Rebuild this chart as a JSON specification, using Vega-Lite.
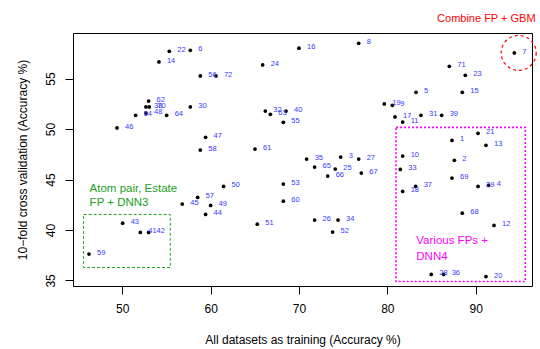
{
  "$schema": "https://vega.github.io/schema/vega-lite/v6.json",
  "width": 459,
  "height": 253,
  "autosize": {"type": "none"},
  "padding": {"left": 73, "top": 33, "right": 8, "bottom": 63},
  "background": "white",
  "config": {
    "view": {"stroke": "black", "strokeWidth": 1},
    "font": "Liberation Sans",
    "axis": {"domain": false, "grid": false, "tickColor": "black", "tickSize": 8, "labelColor": "black", "labelFontSize": 12, "titleFontSize": 12, "titleFontWeight": "normal", "titleColor": "black", "labelFont": "Liberation Sans", "titleFont": "Liberation Sans"}
  },
  "datasets": {
    "pts": [
      {"id": "1", "x": 87.32, "y": 48.88}, {"id": "2", "x": 87.59, "y": 46.90}, {"id": "3", "x": 74.72, "y": 47.23},
      {"id": "4", "x": 91.47, "y": 44.42}, {"id": "5", "x": 83.25, "y": 53.64}, {"id": "6", "x": 57.70, "y": 57.81},
      {"id": "7", "x": 94.38, "y": 57.55}, {"id": "8", "x": 76.76, "y": 58.50}, {"id": "9", "x": 80.57, "y": 52.35},
      {"id": "10", "x": 81.74, "y": 47.33}, {"id": "11", "x": 81.74, "y": 50.70}, {"id": "12", "x": 92.08, "y": 40.45},
      {"id": "13", "x": 91.17, "y": 48.39}, {"id": "14", "x": 54.15, "y": 56.65}, {"id": "15", "x": 88.49, "y": 53.64},
      {"id": "16", "x": 70.00, "y": 58.01}, {"id": "17", "x": 80.87, "y": 51.20}, {"id": "18", "x": 81.74, "y": 43.82},
      {"id": "19", "x": 79.66, "y": 52.49}, {"id": "20", "x": 91.17, "y": 35.39}, {"id": "21", "x": 90.27, "y": 49.58},
      {"id": "22", "x": 55.32, "y": 57.71}, {"id": "23", "x": 88.83, "y": 55.33}, {"id": "24", "x": 65.89, "y": 56.36},
      {"id": "25", "x": 74.11, "y": 46.04}, {"id": "26", "x": 71.77, "y": 40.98}, {"id": "27", "x": 76.76, "y": 47.03},
      {"id": "28", "x": 84.98, "y": 35.59}, {"id": "29", "x": 90.27, "y": 44.32}, {"id": "30", "x": 57.70, "y": 52.19},
      {"id": "31", "x": 83.81, "y": 51.36}, {"id": "32", "x": 66.19, "y": 51.79}, {"id": "33", "x": 81.47, "y": 46.00},
      {"id": "34", "x": 74.42, "y": 40.98}, {"id": "35", "x": 70.87, "y": 47.03}, {"id": "36", "x": 86.38, "y": 35.59},
      {"id": "37", "x": 83.21, "y": 44.32}, {"id": "38", "x": 52.68, "y": 52.19}, {"id": "39", "x": 86.15, "y": 51.36},
      {"id": "40", "x": 68.53, "y": 51.79}, {"id": "41", "x": 52.04, "y": 39.76}, {"id": "42", "x": 52.98, "y": 39.76},
      {"id": "43", "x": 50.04, "y": 40.68}, {"id": "44", "x": 59.43, "y": 41.54}, {"id": "45", "x": 56.79, "y": 42.57},
      {"id": "46", "x": 49.40, "y": 50.11}, {"id": "47", "x": 59.43, "y": 49.18}, {"id": "48", "x": 52.68, "y": 51.59},
      {"id": "49", "x": 60.00, "y": 42.43}, {"id": "50", "x": 61.47, "y": 44.32}, {"id": "51", "x": 65.28, "y": 40.58},
      {"id": "52", "x": 73.81, "y": 39.79}, {"id": "53", "x": 68.23, "y": 44.55}, {"id": "54", "x": 51.51, "y": 51.36},
      {"id": "55", "x": 68.23, "y": 50.67}, {"id": "56", "x": 58.83, "y": 55.26}, {"id": "57", "x": 58.53, "y": 43.23},
      {"id": "58", "x": 58.83, "y": 47.92}, {"id": "59", "x": 46.23, "y": 37.61}, {"id": "60", "x": 68.23, "y": 42.86},
      {"id": "61", "x": 65.02, "y": 48.02}, {"id": "62", "x": 52.98, "y": 52.78}, {"id": "63", "x": 66.76, "y": 51.46},
      {"id": "64", "x": 55.02, "y": 51.36}, {"id": "65", "x": 71.77, "y": 46.24}, {"id": "66", "x": 73.25, "y": 45.34},
      {"id": "67", "x": 77.06, "y": 45.64}, {"id": "68", "x": 88.49, "y": 41.67}, {"id": "69", "x": 87.32, "y": 45.15},
      {"id": "70", "x": 53.06, "y": 52.19}, {"id": "71", "x": 87.02, "y": 56.22}, {"id": "72", "x": 60.60, "y": 55.26}
    ]
  },
  "layer": [
    {
      "data": {"values": [{"x1": 45.62, "x2": 55.43, "y1": 36.28, "y2": 41.54}]},
      "mark": {"type": "rect", "fill": null, "stroke": "#22a022", "strokeWidth": 1, "strokeDash": [3, 2]},
      "encoding": {
        "x": {"field": "x1", "type": "quantitative", "scale": {"domain": [44.42, 96.38], "nice": false, "zero": false},
              "axis": {"values": [50, 60, 70, 80, 90], "labelPadding": 9, "title": "All datasets as training (Accuracy %)", "titlePadding": 20}},
        "x2": {"field": "x2"},
        "y": {"field": "y1", "type": "quantitative", "scale": {"domain": [34.45, 59.52], "nice": false, "zero": false},
              "axis": {"values": [35, 40, 45, 50, 55], "labelAngle": 270, "labelAlign": "center", "labelBaseline": "bottom", "labelPadding": 8, "title": "10\u2212fold cross validation (Accuracy %)", "titlePadding": 15}},
        "y2": {"field": "y2"}
      }
    },
    {
      "data": {"values": [{"x1": 80.99, "x2": 95.62, "y1": 34.89, "y2": 50.17}]},
      "mark": {"type": "rect", "fill": null, "stroke": "#ff00ff", "strokeWidth": 1.6, "strokeDash": [2, 2]},
      "encoding": {
        "x": {"field": "x1", "type": "quantitative", "scale": {"domain": [44.42, 96.38], "nice": false, "zero": false}},
        "x2": {"field": "x2"},
        "y": {"field": "y1", "type": "quantitative", "scale": {"domain": [34.45, 59.52], "nice": false, "zero": false}},
        "y2": {"field": "y2"}
      }
    },
    {
      "data": {"values": [{"x": 94.87, "y": 57.55}]},
      "mark": {"type": "point", "shape": "circle", "filled": false, "size": 1225, "color": "#ff0000", "strokeWidth": 1.2, "strokeDash": [3, 3], "opacity": 1},
      "encoding": {
        "x": {"field": "x", "type": "quantitative", "scale": {"domain": [44.42, 96.38], "nice": false, "zero": false}},
        "y": {"field": "y", "type": "quantitative", "scale": {"domain": [34.45, 59.52], "nice": false, "zero": false}}
      }
    },
    {
      "data": {"name": "pts"},
      "mark": {"type": "point", "shape": "circle", "filled": true, "size": 14, "color": "black", "opacity": 1},
      "encoding": {
        "x": {"field": "x", "type": "quantitative", "scale": {"domain": [44.42, 96.38], "nice": false, "zero": false}},
        "y": {"field": "y", "type": "quantitative", "scale": {"domain": [34.45, 59.52], "nice": false, "zero": false}}
      }
    },
    {
      "data": {"name": "pts"},
      "mark": {"type": "text", "align": "left", "baseline": "middle", "dx": 8, "dy": -1, "fontSize": 7.5, "color": "#3838ff", "font": "Liberation Sans"},
      "encoding": {
        "x": {"field": "x", "type": "quantitative", "scale": {"domain": [44.42, 96.38], "nice": false, "zero": false}},
        "y": {"field": "y", "type": "quantitative", "scale": {"domain": [34.45, 59.52], "nice": false, "zero": false}},
        "text": {"field": "id"}
      }
    },
    {
      "data": {"values": [{"x": 46.3, "y": 44.06, "t": "Atom pair, Estate"}, {"x": 46.3, "y": 42.67, "t": "FP + DNN3"}]},
      "mark": {"type": "text", "align": "left", "baseline": "middle", "fontSize": 11.5, "color": "#22a022", "font": "Liberation Sans"},
      "encoding": {
        "x": {"field": "x", "type": "quantitative", "scale": {"domain": [44.42, 96.38], "nice": false, "zero": false}},
        "y": {"field": "y", "type": "quantitative", "scale": {"domain": [34.45, 59.52], "nice": false, "zero": false}},
        "text": {"field": "t"}
      }
    },
    {
      "data": {"values": [{"x": 83.28, "y": 38.86, "t": "Various FPs +"}, {"x": 83.28, "y": 37.31, "t": "DNN4"}]},
      "mark": {"type": "text", "align": "left", "baseline": "middle", "fontSize": 11.5, "color": "#ff00ff", "font": "Liberation Sans"},
      "encoding": {
        "x": {"field": "x", "type": "quantitative", "scale": {"domain": [44.42, 96.38], "nice": false, "zero": false}},
        "y": {"field": "y", "type": "quantitative", "scale": {"domain": [34.45, 59.52], "nice": false, "zero": false}},
        "text": {"field": "t"}
      }
    },
    {
      "data": {"values": [{"x": 91.21, "y": 60.95, "t": "Combine FP + GBM"}]},
      "mark": {"type": "text", "align": "center", "baseline": "middle", "fontSize": 11, "color": "#ff0000", "font": "Liberation Sans"},
      "encoding": {
        "x": {"field": "x", "type": "quantitative", "scale": {"domain": [44.42, 96.38], "nice": false, "zero": false}},
        "y": {"field": "y", "type": "quantitative", "scale": {"domain": [34.45, 59.52], "nice": false, "zero": false}},
        "text": {"field": "t"}
      }
    }
  ]
}
